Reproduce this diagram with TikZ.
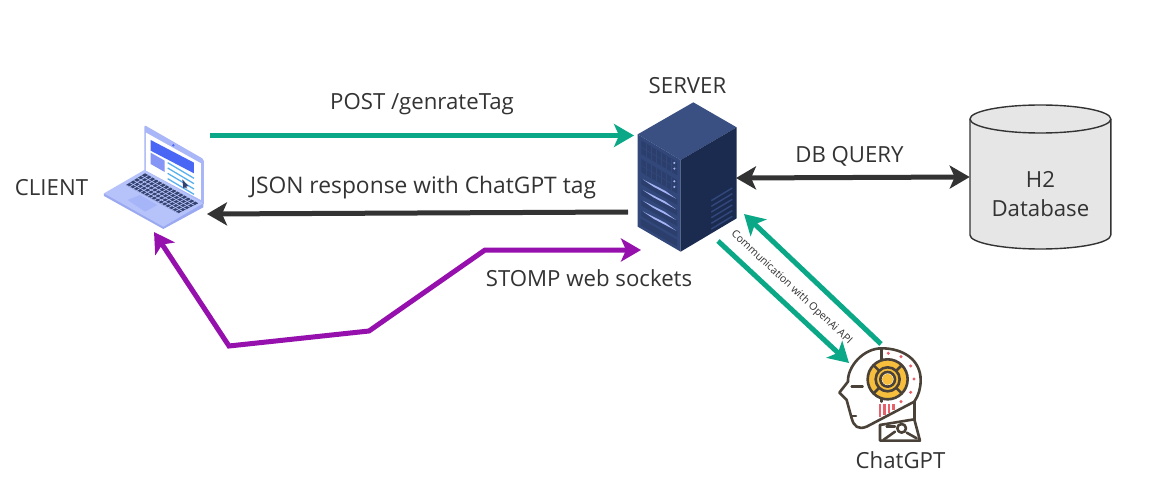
\documentclass[tikz,border=0pt]{standalone}
\usepackage{fontspec}
\setmainfont{Open Sans}
\usetikzlibrary{arrows.meta,calc}
\definecolor{teal}{HTML}{0BA888}
\definecolor{ink}{HTML}{333333}
\definecolor{violet}{HTML}{9510AC}
\definecolor{robot}{HTML}{4A4238}
\definecolor{lidc}{HTML}{A9B6F7}
\definecolor{basec}{HTML}{B6C3FB}
\definecolor{basedk}{HTML}{9AA9F0}
\definecolor{band}{HTML}{4A66F5}
\definecolor{sqc}{HTML}{8595F5}
\definecolor{linec}{HTML}{5AB0EE}
\definecolor{keyc}{HTML}{34426F}
\definecolor{padc}{HTML}{A6B4F8}
\definecolor{srvtop}{HTML}{3A5082}
\definecolor{srvleft}{HTML}{33487A}
\definecolor{srvright}{HTML}{1B2B50}
\definecolor{srvpanel}{HTML}{2B3E6C}
\definecolor{srvgrill}{HTML}{32487C}
\definecolor{srvblade}{HTML}{A5B2F5}
\definecolor{goldc}{HTML}{F6BE3C}
\definecolor{redc}{HTML}{E8606A}
\definecolor{dbfill}{HTML}{E6E6E6}
\tikzset{
  lbl/.style={text=ink,inner sep=0pt,font=\fontsize{22.2}{26}\selectfont},
  conn/.style={line width=5pt,-{Stealth[length=20pt,width=23pt,inset=5pt]}},
  conn2/.style={line width=5pt,{Stealth[length=20pt,width=23pt,inset=5pt]}-{Stealth[length=20pt,width=23pt,inset=5pt]}},
  rob/.style={draw=robot,line width=2.6pt,line join=round,line cap=round},
  zoomed/.style={x=0.3333pt,y=-0.3333pt},
}
\begin{document}
\begin{tikzpicture}[x=1pt,y=-1pt]
\useasboundingbox (0,0) rectangle (1151,481);
\fill[white] (0,0) rectangle (1151,481);

% --- laptop
\begin{scope}[shift={(90,110)},zoomed]
\fill[lidc,rounded corners=2pt] (163,45)--(342,148)--(342,285)--(163,185)--cycle;
\fill[white] (168,68)--(333,160)--(333,270)--(168,182)--cycle;
\fill[basedk] (42,250)--(42,258)--(220,357)--(340,292)--(340,278)--cycle;
\fill[basec] (42,250)--(163,180)--(340,280)--(220,350)--cycle;
\fill[band] (182,90)--(312,158)--(312,190)--(182,122)--cycle;
\fill[sqc] (182,128)--(224,152)--(224,186)--(182,162)--cycle;
\foreach \d in {0,16,32,48}
  \draw[line width=1.3pt,linec] (233,158+\d)--(312,205+\d);
\fill[keyc] (277,208)--(295,228)--(288,230)--(292,236)--(285,232)--(280,235)--cycle;
\begin{scope}
  \clip (108,225)--(165,190)--(325,280)--(265,310)--cycle;
  \fill[keyc] (108,225)--(165,190)--(325,280)--(265,310)--cycle;
  \foreach \k in {0,...,4}
    \draw[basec,line width=.7pt] (108+\k*11.4,225-\k*7)--(265+\k*12,310-\k*6);
  \foreach \k in {1,...,14}
    \draw[basec,line width=.7pt] (108+\k*10.5,225+\k*5.7)--(165+\k*10.7,190+\k*6);
\end{scope}
\fill[padc] (113,270)--(150,255)--(202,285)--(165,305)--cycle;
\fill[band] (250,106) circle (4);
\end{scope}

% --- server
\begin{scope}[shift={(620,90)},zoomed]
\fill[srvtop] (220,37)--(350,112)--(182,210)--(53,133)--cycle;
\fill[srvleft] (53,133)--(182,210)--(182,485)--(53,410)--cycle;
\fill[srvright] (182,210)--(350,112)--(350,385)--(182,485)--cycle;
\foreach \o in {0,55}{
  \fill[srvpanel] (64,152+\o)--(172,216+\o)--(172,256+\o)--(64,192+\o)--cycle;
  \foreach \k in {1,...,6}
    \draw[srvleft,line width=.6pt] (64+\k*15,152+\o+\k*9)--(64+\k*15,192+\o+\k*9);
  \draw[srvleft,line width=.6pt] (64,172+\o)--(172,236+\o);
  \fill[srvblade] (163,219+\o) circle (3.5);
  \fill[srvblade] (163,236+\o) circle (3.5);
}
\foreach \o in {0,32,64,96}{
  \fill[srvpanel] (64,266+\o)--(172,328+\o)--(172,345+\o)--(64,283+\o)--cycle;
  \fill[srvblade] (68,268+\o)--(135,302+\o)--(168,326+\o)--(100,290+\o)--cycle;
}
\fill[srvpanel] (62,386)--(172,450)--(172,470)--(62,406)--cycle;
\foreach \o in {0,17,34,51,68,85}
  \draw[srvgrill,line width=1.4pt] (274,332+\o)--(337,294+\o);
\end{scope}

% --- database
\draw[fill=dbfill,draw=ink,line width=1.4pt]
  (970,119) arc[start angle=180,end angle=0,x radius=70.4,y radius=-14]
  -- (1110.8,235) arc[start angle=0,end angle=-180,x radius=70.4,y radius=-14] -- cycle;
\draw[draw=ink,line width=1.4pt]
  (970,119) arc[start angle=180,end angle=360,x radius=70.4,y radius=-14];
\node[minimum width=141pt,minimum height=144pt,inner sep=0pt] (db) at (1040.4,177) {};
\node[lbl] (dbA) at (1040.4,179) {H2};
\node[lbl] (dbB) at (1040.4,208) {Database};

% --- robot
\begin{scope}[shift={(710,210)},zoomed]
\draw[rob] (515,415) .. controls (580,415) and (632,450) .. (632,510)
   .. controls (632,535) and (626,556) .. (613,575)
   -- (470,650) .. controls (445,660) and (432,650) .. (425,625)
   -- (410,570) -- (388,548) -- (414,515)
   .. controls (412,470) and (460,415) .. (515,415);
\draw[rob] (515,415)--(515,450);
\draw[rob] (425,530)--(458,530);
\draw[rob] (425,618)--(438,618);
\draw[rob] (515,566)--(515,575);
\draw[rob] (613,575)--(613,628);
\draw[rob] (510,645)--(613,628);
\draw[rob] (510,645)--(510,692)--(630,692)--(613,628);
\draw[rob] (520,690)--(555,665);
\draw[rob] (590,668)--(620,685);
\draw[rob] (530,650)--(555,650);
\draw[rob,fill=white] (575,655) circle (13);
\draw[rob,fill=goldc] (533,508) circle (60);
\draw[rob] (533,508) circle (36);
\draw[rob,fill=white] (533,508) circle (22);
\fill[goldc] (533,508) circle (17);
\foreach \a in {45,135,225,315}
  \draw[rob] ($(533,508)+(\a:36)$)--($(533,508)+(\a:60)$);
\foreach \p in {(535,430),(573,440),(602,468),(612,507),(602,547),(573,575)}
  \fill[redc] \p circle (5);
\draw[redc,line width=2.4pt] (510,583)--(510,622);
\draw[redc,line width=2.4pt] (524,583)--(524,615);
\draw[redc,line width=2.4pt] (537,583)--(537,608);
\draw[redc,line width=2.4pt] (550,583)--(550,600);
\end{scope}

% --- free ends of connectors
\coordinate (postS) at (210,135.5);
\coordinate (postE) at (634,135.5);
\coordinate (jsonS) at (628,212);
\coordinate (jsonE) at (207,214);
\coordinate (dbS) at (736,178);
\coordinate (stA) at (641,250);
\coordinate (stB) at (485,250);
\coordinate (stC) at (369,331);
\coordinate (stD) at (229,346);
\coordinate (stE) at (154,232);
\coordinate (gA) at (718,241);
\coordinate (gB) at (849,363);
\coordinate (gC) at (881,344);
\coordinate (gD) at (744,214);

% --- connectors
\draw[conn,teal] (postS) -- (postE);
\draw[conn,ink] (jsonS) -- (jsonE);
\draw[conn2,ink] (dbS) -- (db.west);
\draw[conn2,violet,line join=miter] (stA) -- (stB) -- (stC) -- (stD) -- (stE);
\draw[conn,teal] (gA) -- (gB);
\draw[conn,teal] (gC) -- (gD);

% --- labels
\node[lbl] (client) at (51.5,188) {CLIENT};
\node[lbl] (server) at (687.5,86) {SERVER};
\node[lbl] (post) at (422,104) {POST /genrateTag};
\node[lbl,font=\fontsize{22.8}{26}\selectfont] (json) at (423,188) {JSON response with ChatGPT tag};
\node[lbl] (dbq) at (849.5,156) {DB QUERY};
\node[lbl] (stomp) at (589,278) {STOMP web sockets};
\node[lbl] (chat) at (900.5,460) {ChatGPT};
\node[text=ink,inner sep=0pt,rotate=-43,font=\fontsize{10.6}{12}\selectfont] (comm) at (791.5,287.5) {Communication with OpenAi API};
\end{tikzpicture}
\end{document}
